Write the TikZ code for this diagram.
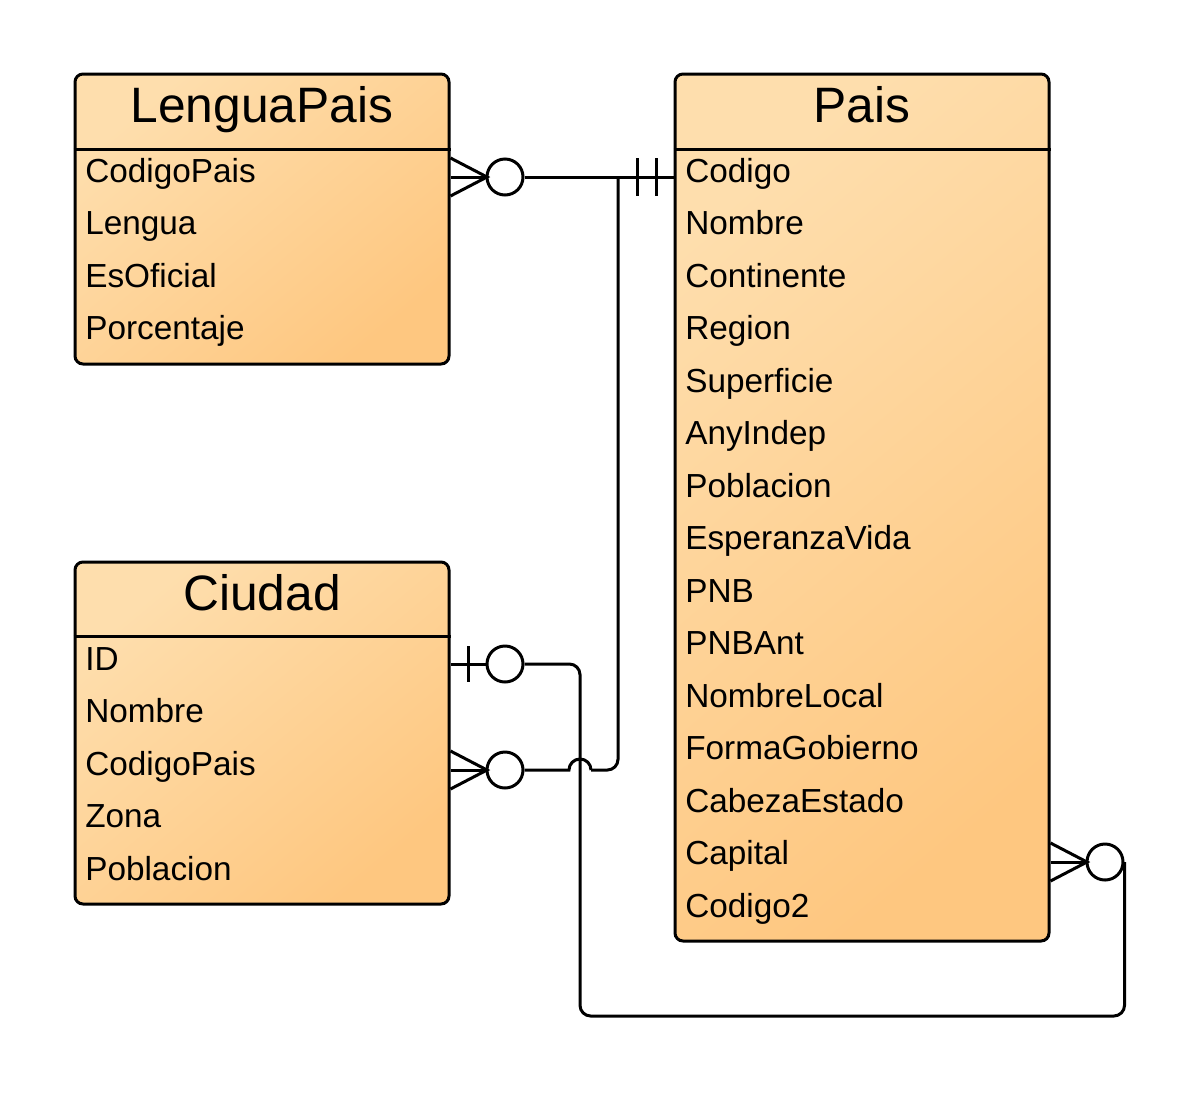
\documentclass[tikz,border=0pt]{standalone}
\usepackage{fontspec}
\setmainfont{Liberation Sans}
\definecolor{lite}{HTML}{FEDEAD}
\definecolor{dark}{HTML}{FEC780}
\begin{document}
\begin{tikzpicture}[x=0.75pt,y=-0.75pt,
  lw/.style={line width=2.25pt},
  tbl/.style={draw, lw, rounded corners=6pt, inner sep=0pt, top color=lite, bottom color=dark, shading angle=40},
  ttl/.style={anchor=base, inner sep=0pt, font=\fontsize{37.3}{42}\selectfont},
  attr/.style={anchor=base west, inner sep=0pt, font=\fontsize{25}{29}\selectfont},
  circ/.style={circle, draw, lw, fill=white, minimum size=27pt, inner sep=0pt},
  conn/.style={lw, line cap=round, line join=round}
]
\useasboundingbox (0,0) rectangle (1202,1093);

% tables
\node[tbl, minimum width=280.5pt, minimum height=217.5pt] (lengua) at (262,219) {};
\node[tbl, minimum width=280.5pt, minimum height=650.25pt] (pais) at (862,507.5) {};
\node[tbl, minimum width=280.5pt, minimum height=256.5pt] (ciudad) at (262,733) {};

\draw[lw] (lengua.west |- 0,149) -- (lengua.east |- 0,149);
\draw[lw] (pais.west |- 0,149) -- (pais.east |- 0,149);
\draw[lw] (ciudad.west |- 0,636) -- (ciudad.east |- 0,636);

\node[ttl] (lt) at (262,122) {LenguaPais};
\node[ttl] (pt) at (862,122) {Pais};
\node[ttl] (ct) at (262,610) {Ciudad};

\foreach \t [count=\i from 0] in {CodigoPais,Lengua,EsOficial,Porcentaje}
  \node[attr] (la\i) at (85,{182+52.5*\i}) {\t};
\foreach \t [count=\i from 0] in {ID,Nombre,CodigoPais,Zona,Poblacion}
  \node[attr] (ca\i) at (85,{670+52.5*\i}) {\t};
\foreach \t [count=\i from 0] in {Codigo,Nombre,Continente,Region,Superficie,AnyIndep,Poblacion,EsperanzaVida,PNB,PNBAnt,NombreLocal,FormaGobierno,CabezaEstado,Capital,Codigo2}
  \node[attr] (pa\i) at (685,{182+52.5*\i}) {\t};

% circles
\node[circ] (c1) at (505,177) {};
\node[circ] (c2) at (505,664) {};
\node[circ] (c3) at (505,770) {};
\node[circ] (c4) at (1105,862) {};
\coordinate (j1) at (618,177);

% LenguaPais -- Pais
\draw[lw] (lengua.east |- 0,158) -- (487,177) -- (lengua.east |- 0,196);
\draw[lw] (lengua.east |- c1) -- (c1.west);
\draw[lw] (c1.east) -- (pais.west |- c1);
\draw[lw] (637,158) -- (637,196);
\draw[lw] (656,158) -- (656,196);

% Pais -- Ciudad.CodigoPais
\draw[lw, rounded corners=8pt] (j1) -- (618,770) -- (591,770);
\draw[lw] (591,770) arc[start angle=0, end angle=-180, radius=11] -- (c3.east);
\draw[lw] (ciudad.east |- 0,751) -- (487,770) -- (ciudad.east |- 0,789);
\draw[lw] (ciudad.east |- c3) -- (c3.west);

% Ciudad.ID -- Pais.Capital
\draw[lw] (ciudad.east |- c2) -- (c2.west);
\draw[lw] (468,646) -- (468,682);
\draw[lw, rounded corners=8pt] (c2.east) -- (580,664) -- (580,1016) -- (c4.east |- 0,1016) -- (c4.east);
\draw[lw] (pais.east |- 0,843) -- (1087,862) -- (pais.east |- 0,881);
\draw[lw] (pais.east |- c4) -- (c4.west);
\end{tikzpicture}
\end{document}
